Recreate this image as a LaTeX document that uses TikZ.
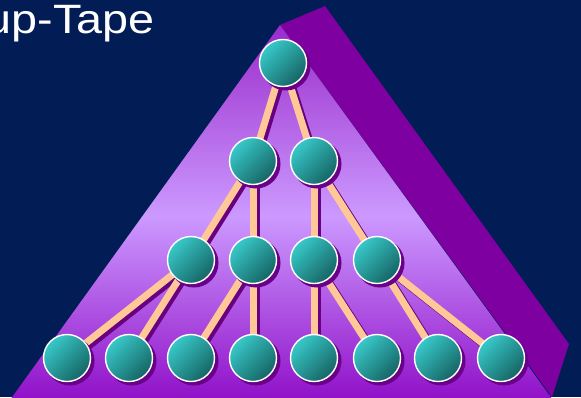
\documentclass[tikz,border=0pt]{standalone}
\usepackage{fontspec}
\setmainfont{Liberation Sans}
\definecolor{navy}{HTML}{021D56}
\definecolor{sideface}{HTML}{7E00A0}
\definecolor{facetop}{HTML}{9A2CCB}
\definecolor{facemid}{HTML}{CC99FF}
\definecolor{facebot}{HTML}{8E0BC6}
\definecolor{tape}{HTML}{FFC896}
\definecolor{tapeshade}{HTML}{680080}
\definecolor{ballshade}{HTML}{6A0088}
\definecolor{tealhi}{HTML}{37C9C9}
\definecolor{teallo}{HTML}{176464}
\pgfdeclarelayer{back}
\pgfdeclarelayer{links}
\pgfsetlayers{back,links,main}
\tikzset{
  ball/.style={circle, minimum size=47pt, inner sep=0pt, draw=white, line width=1.4pt,
    shade, top color=tealhi, bottom color=teallo, shading angle=45},
  link/.style={draw=tape, line width=7pt},
  linkshade/.style={draw=tapeshade, line width=7pt},
  title/.style={text=white, font=\fontsize{41}{45}\selectfont, xscale=1.14, inner sep=0pt}
}
\begin{document}
\begin{tikzpicture}[x=1pt,y=-1pt]
\useasboundingbox (0,0) rectangle (581,397);
\begin{pgfonlayer}{back}
  \fill[navy] (0,0) rectangle (581,397);
  % side face of the pyramid
  \fill[sideface] (280,25) -- (325,6) -- (569,344) -- (552,397) -- cycle;
  % front face: dark at the tip, pale in the middle, dark at the base
  \shade[top color=facetop, bottom color=facebot, middle color=facemid]
    (280,25) -- (5,407) -- (558,407) -- cycle;
\end{pgfonlayer}

\node[title, anchor=base east] (ttl) at (155,33) {up-Tape};

% tree nodes
\node[ball] (r)  at (283,63) {};
\node[ball] (a1) at (253,161) {};
\node[ball] (a2) at (314,161) {};
\node[ball] (b1) at (191,260) {};
\node[ball] (b2) at (253,260) {};
\node[ball] (b3) at (314,260) {};
\node[ball] (b4) at (377,260) {};
\foreach \i/\x in {1/67,2/129,3/191,4/253,5/314,6/377,7/438,8/501}
  \node[ball] (c\i) at (\x,358) {};

\begin{pgfonlayer}{links}
  \foreach \u/\v in {r/a1,r/a2,a1/b1,a1/b2,a2/b3,a2/b4,b1/c1,b1/c2,b2/c3,b2/c4,b3/c5,b3/c6,b4/c7,b4/c8}
    \draw[linkshade] ([shift={(3pt,-3pt)}]\u.center) -- ([shift={(3pt,-3pt)}]\v.center);
  \foreach \u/\v in {r/a1,r/a2,a1/b1,a1/b2,a2/b3,a2/b4,b1/c1,b1/c2,b2/c3,b2/c4,b3/c5,b3/c6,b4/c7,b4/c8}
    \draw[link] (\u.center) -- (\v.center);
  \foreach \n in {r,a1,a2,b1,b2,b3,b4,c1,c2,c3,c4,c5,c6,c7,c8}
    \fill[ballshade] ([shift={(3pt,-3pt)}]\n.center) circle (24.5pt);
\end{pgfonlayer}
\end{tikzpicture}
\end{document}
